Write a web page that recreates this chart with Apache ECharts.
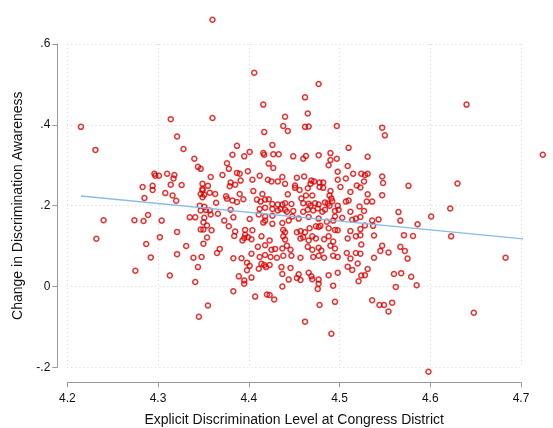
<!DOCTYPE html>
<html>
<head>
<meta charset="utf-8">
<script src="https://cdn.jsdelivr.net/npm/echarts@6/dist/echarts.min.js"></script>
<style>html,body{margin:0;padding:0;background:#fff}#chart{width:553px;height:428px}</style>
</head>
<body>
<div id="chart"></div>
<script>
// Tick values
const xTicks = [4.2, 4.3, 4.4, 4.5, 4.6, 4.7];
const yTicks = [-0.2, 0, 0.2, 0.4, 0.6];

// Scatter points [explicit discrimination level, change in awareness]
const points = [
[4.360,0.660],[4.406,0.529],[4.477,0.501],[4.640,0.450],[4.724,0.326],[4.683,0.071],[4.648,-0.065],[4.598,-0.211],
[4.215,0.395],[4.231,0.338],[4.240,0.164],[4.232,0.118],[4.275,0.039],[4.283,0.246],[4.285,0.219],[4.274,0.164],
[4.284,0.162],[4.289,0.177],[4.287,0.105],
[4.314,0.414],[4.360,0.417],[4.321,0.371],[4.328,0.340],[4.340,0.316],[4.344,0.296],[4.347,0.291],[4.387,0.348],
[4.382,0.326],[4.376,0.305],[4.395,0.322],[4.401,0.333],[4.378,0.291],
[4.416,0.450],[4.462,0.468],[4.440,0.420],[4.465,0.428],[4.438,0.397],[4.443,0.385],[4.462,0.395],[4.466,0.396],
[4.497,0.397],[4.417,0.382],[4.426,0.350],[4.416,0.330],[4.417,0.326],[4.427,0.327],[4.433,0.327],[4.449,0.322],
[4.460,0.316],[4.463,0.323],[4.477,0.325],[4.490,0.330],[4.490,0.313],[4.497,0.316],[4.488,0.300],[4.510,0.343],
[4.509,0.298],[4.422,0.304],[4.427,0.293],
[4.547,0.393],[4.550,0.374],[4.531,0.321],
[4.296,0.279],[4.297,0.274],[4.301,0.274],[4.310,0.279],[4.318,0.276],[4.317,0.267],[4.358,0.271],[4.371,0.276],
[4.387,0.281],[4.390,0.279],[4.399,0.285],[4.294,0.249],[4.294,0.239],[4.314,0.252],[4.326,0.251],[4.349,0.254],
[4.355,0.249],[4.349,0.241],[4.349,0.238],[4.380,0.257],[4.385,0.252],[4.379,0.248],[4.391,0.262],[4.390,0.229],
[4.308,0.231],[4.316,0.225],[4.320,0.212],[4.347,0.229],[4.349,0.221],[4.351,0.227],[4.357,0.232],[4.363,0.229],
[4.375,0.223],[4.376,0.217],[4.382,0.213],[4.387,0.209],[4.394,0.216],[4.364,0.207],
[4.304,0.163],[4.335,0.171],[4.341,0.171],[4.346,0.200],[4.351,0.197],[4.353,0.189],[4.347,0.188],[4.357,0.188],
[4.358,0.178],[4.366,0.180],[4.351,0.170],[4.350,0.159],[4.373,0.163],[4.378,0.149],[4.380,0.190],[4.383,0.171],
[4.354,0.151],[4.347,0.141],[4.350,0.141],[4.359,0.139],[4.385,0.136],[4.396,0.140],[4.396,0.128],[4.395,0.120],
[4.399,0.122],[4.384,0.125],[4.393,0.114],[4.354,0.121],[4.321,0.135],[4.302,0.122],[4.331,0.100],[4.350,0.106],
[4.368,0.093],[4.365,0.083],[4.321,0.080],[4.292,0.072],[4.339,0.071],[4.348,0.073],[4.383,0.070],[4.392,0.070],
[4.344,0.048],[4.313,0.027],[4.341,0.011],[4.398,0.059],[4.398,0.040],[4.389,0.025],[4.395,0.015],[4.395,0.007],
[4.383,-0.012],[4.355,-0.047],[4.345,-0.075],
[4.401,0.051],[4.403,0.022],[4.414,0.056],[4.417,0.053],[4.419,0.048],[4.423,0.053],[4.411,0.044],[4.436,0.048],
[4.446,0.046],[4.437,0.031],[4.444,0.017],[4.437,0.000],[4.455,0.030],[4.453,0.021],[4.457,0.016],[4.466,0.034],
[4.469,0.025],[4.470,0.018],[4.477,0.017],[4.477,0.007],[4.476,-0.006],[4.488,0.028],[4.498,0.034],[4.493,0.002],
[4.509,0.049],[4.514,0.041],[4.520,0.057],[4.521,0.013],[4.407,-0.025],[4.420,-0.020],[4.423,-0.021],[4.428,-0.032],
[4.478,-0.046],[4.495,-0.038],[4.462,-0.087],[4.491,-0.117],
[4.531,0.043],[4.524,0.027],[4.528,0.028],[4.560,0.031],[4.568,0.033],[4.579,0.024],[4.585,0.003],[4.562,-0.001],
[4.536,-0.034],[4.544,-0.046],[4.549,-0.046],[4.558,-0.040],[4.554,-0.062],
[4.524,0.279],[4.528,0.276],[4.531,0.279],[4.547,0.272],[4.527,0.260],[4.548,0.256],[4.523,0.245],[4.576,0.249],
[4.630,0.255],[4.531,0.228],[4.547,0.226],[4.530,0.210],[4.536,0.210],[4.527,0.187],[4.523,0.172],[4.565,0.184],
[4.622,0.193],[4.536,0.163],[4.543,0.166],[4.567,0.163],[4.528,0.151],[4.537,0.150],[4.601,0.173],[4.586,0.154],
[4.523,0.127],[4.538,0.126],[4.571,0.127],[4.581,0.125],[4.623,0.124],[4.524,0.104],[4.547,0.101],[4.545,0.088],
[4.554,0.084],[4.567,0.098],[4.572,0.088],[4.538,0.071],[4.575,0.069],[4.523,0.081],
[4.412,0.274],[4.437,0.271],[4.432,0.260],[4.440,0.254],[4.404,0.264],[4.421,0.264],[4.425,0.260],[4.453,0.269],
[4.461,0.272],[4.469,0.262],[4.472,0.260],[4.468,0.254],[4.478,0.257],[4.482,0.257],[4.498,0.284],[4.498,0.264],
[4.507,0.267],[4.515,0.279],[4.519,0.250],[4.451,0.250],[4.451,0.244],[4.456,0.239],[4.465,0.243],[4.478,0.246],
[4.482,0.244],[4.490,0.236],[4.501,0.246],[4.512,0.234],[4.405,0.236],[4.415,0.229],[4.443,0.228],[4.458,0.218],
[4.470,0.225],[4.463,0.225],[4.489,0.225],[4.491,0.218],[4.492,0.211],[4.507,0.210],[4.510,0.213],[4.409,0.215],
[4.413,0.210],[4.418,0.215],[4.422,0.216],[4.426,0.204],[4.432,0.203],[4.437,0.203],[4.440,0.206],[4.447,0.204],
[4.460,0.206],[4.466,0.205],[4.468,0.200],[4.473,0.206],[4.477,0.203],[4.484,0.208],[4.487,0.205],[4.489,0.200],
[4.498,0.200],[4.412,0.192],[4.418,0.195],[4.426,0.192],[4.432,0.188],[4.435,0.192],[4.440,0.190],[4.442,0.185],
[4.449,0.187],[4.460,0.185],[4.465,0.190],[4.471,0.188],[4.476,0.193],[4.481,0.185],[4.484,0.190],[4.495,0.187],
[4.499,0.190],[4.512,0.185],[4.522,0.198],[4.411,0.178],[4.418,0.173],[4.426,0.175],[4.448,0.173],[4.466,0.172],
[4.495,0.173],[4.503,0.170],[4.401,0.167],[4.418,0.163],[4.416,0.158],[4.426,0.155],[4.437,0.157],[4.444,0.163],
[4.455,0.168],[4.477,0.168],[4.486,0.160],[4.493,0.163],[4.514,0.165],[4.518,0.168],
[4.404,0.139],[4.438,0.140],[4.440,0.134],[4.453,0.134],[4.457,0.137],[4.462,0.134],[4.467,0.144],[4.474,0.149],
[4.477,0.147],[4.479,0.150],[4.488,0.144],[4.495,0.140],[4.498,0.139],[4.512,0.137],[4.523,0.142],[4.403,0.117],
[4.414,0.124],[4.438,0.124],[4.440,0.116],[4.423,0.114],[4.457,0.119],[4.460,0.122],[4.466,0.114],[4.470,0.124],
[4.474,0.119],[4.483,0.117],[4.488,0.124],[4.493,0.111],[4.509,0.119],[4.518,0.124],[4.410,0.098],[4.418,0.102],
[4.425,0.091],[4.429,0.093],[4.437,0.094],[4.442,0.101],[4.446,0.091],[4.465,0.098],[4.470,0.091],[4.477,0.096],
[4.480,0.089],[4.490,0.101],[4.495,0.094],[4.508,0.083],[4.518,0.083],[4.403,0.081],[4.412,0.073],[4.418,0.078],
[4.424,0.073],[4.431,0.071],[4.438,0.076],[4.447,0.076],[4.457,0.071],[4.471,0.073],[4.477,0.076],[4.483,0.071],
[4.493,0.076],[4.498,0.073],[4.512,0.069]
];

// Fitted line endpoints
const fitLine = [[4.215, 0.224], [4.724, 0.113]];

function fmtY(v) {
  if (Math.abs(v) < 1e-9) return '0';
  let s = (Math.round(v * 10) / 10).toString();
  return s.replace(/^(-?)0\./, '$1.');
}

const chart = echarts.init(document.getElementById('chart'), null, {renderer: 'canvas'});
const axisColor = '#9a9a9a';
const fontFam = '"Liberation Sans", Arial, Helvetica, sans-serif';
chart.setOption({
  backgroundColor: '#ffffff',
  animation: false,
  grid: {left: 67.3, right: 32, top: 44, bottom: 60.7, containLabel: false, outerBoundsMode: 'none'},
  xAxis: {
    type: 'value', min: xTicks[0], max: xTicks[xTicks.length - 1], interval: 0.1,
    offset: 15,
    axisLine: {show: true, onZero: false, lineStyle: {color: axisColor, width: 1}},
    axisTick: {show: true, length: 5, lineStyle: {color: axisColor}},
    axisLabel: {color: '#111', fontSize: 12, fontFamily: fontFam, margin: 10,
      formatter: v => v.toFixed(1)},
    splitLine: {show: true, lineStyle: {color: '#d8d8d8', type: [1, 3], width: 1}},
    name: 'Explicit Discrimination Level at Congress District',
    nameLocation: 'middle', nameGap: 31,
    nameTextStyle: {color: '#111', fontSize: 14, fontFamily: fontFam}
  },
  yAxis: {
    type: 'value', min: yTicks[0], max: yTicks[yTicks.length - 1], interval: 0.2,
    offset: 10,
    axisLine: {show: true, onZero: false, lineStyle: {color: axisColor, width: 1}},
    axisTick: {show: true, length: 5, lineStyle: {color: axisColor}},
    axisLabel: {color: '#111', fontSize: 12, fontFamily: fontFam, margin: 7, formatter: fmtY},
    splitLine: {show: true, lineStyle: {color: '#d8d8d8', type: [1, 3], width: 1}},
    name: 'Change in Discrimination Awareness',
    nameLocation: 'middle', nameGap: 30, nameRotate: 90,
    nameTextStyle: {color: '#111', fontSize: 14, fontFamily: fontFam}
  },
  series: [
    {
      type: 'scatter', data: points, symbol: 'circle', symbolSize: 5, clip: false,
      itemStyle: {color: 'rgba(0,0,0,0)', borderColor: '#dd0000', borderWidth: 1.5},
      emphasis: {disabled: true}, z: 3
    },
    {
      type: 'line', data: fitLine, symbol: 'none', clip: false,
      lineStyle: {color: '#86bde6', width: 1.4}, z: 4
    }
  ]
});
</script>
</body>
</html>
